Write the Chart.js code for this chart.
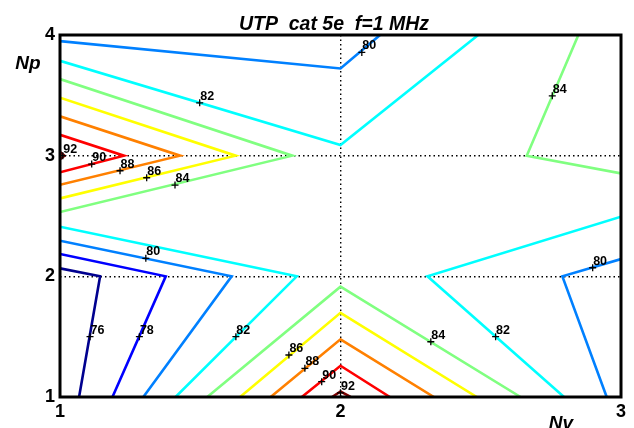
<!DOCTYPE html>
<html>
<head>
<meta charset="utf-8">
<script src="https://cdn.jsdelivr.net/npm/chart.js@4/dist/chart.umd.min.js"></script>
<style>
html,body{margin:0;padding:0;background:#fff;}
#wrap{width:634px;height:428px;position:relative;}
</style>
</head>
<body>
<div id="wrap"><canvas id="c" width="634" height="428"></canvas></div>
<script>
// ---- data ----
const titleText = "UTP  cat 5e  f=1 MHz";
const xLabel = "Nv";
const yLabel = "Np";
const xTicks = [1, 2, 3];
const yTicks = [1, 2, 3, 4];

// contour levels and their colours
const levels = [76, 78, 80, 82, 84, 86, 88, 90, 92];
const levelColors = ["#00008F", "#0000FF", "#0080FF", "#00FFFF", "#80FF80", "#FFFF00", "#FF8000", "#FF0000", "#800000"];

// contour polylines [x, y]
const c76 = [[1, 2.066], [1.143, 2], [1.068, 1]];
const c78 = [[1, 2.185], [1.377, 2], [1.187, 1]];
const c80a = [[1, 3.949], [2, 3.723], [2.141, 4]];
const c80b = [[1, 2.295], [1.612, 2], [1.297, 1]];
const c80c = [[3, 2.143], [2.791, 2], [2.949, 1]];
const c82a = [[1, 3.786], [2, 3.088], [2.491, 4]];
const c82b = [[1, 2.411], [1.844, 2], [1.412, 1]];
const c82c = [[3, 2.494], [2.310, 2], [2.797, 1]];
const c84a = [[1, 3.635], [1.828, 3], [1, 2.533]];
const c84b = [[2.848, 4], [2.664, 3], [3, 2.853]];
const c84c = [[1.525, 1], [2, 1.914], [2.642, 1]];
const c86a = [[1, 3.480], [1.626, 3], [1, 2.646]];
const c86b = [[1.642, 1], [2, 1.698], [2.486, 1]];
const c88a = [[1, 3.326], [1.428, 3], [1, 2.759]];
const c88b = [[1.751, 1], [2, 1.478], [2.333, 1]];
const c90a = [[1, 3.173], [1.228, 3], [1, 2.862]];
const c90b = [[1.862, 1], [2, 1.259], [2.176, 1]];
const c92a = [[1, 3.030], [1.016, 3], [1, 2.970]];
const c92b = [[1.970, 1], [2, 1.046], [2.036, 1]];

const contourLines = [
  [76, c76], [78, c78],
  [80, c80a], [80, c80b], [80, c80c],
  [82, c82a], [82, c82b], [82, c82c],
  [84, c84a], [84, c84b], [84, c84c],
  [86, c86a], [86, c86b],
  [88, c88a], [88, c88b],
  [90, c90a], [90, c90b],
  [92, c92a], [92, c92b]
];

// contour labels: marker position and text
const labelX = [2.076, 1.498, 2.755, 1.010, 1.113, 1.214, 1.309, 1.410, 1.306, 2.899, 1.107, 1.283, 1.627, 2.553, 2.322, 1.816, 1.873, 1.933, 2.000];
const labelY = [3.856, 3.438, 3.496, 3.000, 2.930, 2.875, 2.817, 2.756, 2.149, 2.071, 1.500, 1.500, 1.500, 1.500, 1.458, 1.348, 1.238, 1.127, 1.035];
const labelText = ["80", "82", "84", "92", "90", "88", "86", "84", "80", "80", "76", "78", "82", "82", "84", "86", "88", "90", "92"];

// ---- build datasets ----
const datasets = contourLines.map(([lev, pts]) => ({
  data: pts.map(p => ({x: p[0], y: p[1]})),
  showLine: true,
  borderColor: levelColors[levels.indexOf(lev)],
  borderWidth: 2.6,
  pointRadius: 0,
  fill: false,
  tension: 0,
  borderCapStyle: 'butt',
  borderJoinStyle: 'miter',
  order: 1
}));
datasets.push({
  data: labelX.map((x, i) => ({x: x, y: labelY[i]})),
  showLine: false,
  pointStyle: 'cross',
  pointRadius: 3.5,
  borderColor: '#000',
  borderWidth: 1.3,
  backgroundColor: '#000',
  order: 0
});

const FONT = '"Liberation Sans", Arial, sans-serif';
const decor = {
  id: 'decor',
  afterDatasetsDraw(chart) {
    const ctx = chart.ctx, a = chart.chartArea;
    const xs = chart.scales.x, ys = chart.scales.y;
    ctx.save();
    // contour label texts
    ctx.fillStyle = '#000';
    ctx.font = 'bold 12.5px ' + FONT;
    ctx.textAlign = 'left';
    ctx.textBaseline = 'alphabetic';
    labelText.forEach((t, i) => {
      const px = xs.getPixelForValue(labelX[i]);
      const py = ys.getPixelForValue(labelY[i]);
      ctx.fillText(t, px + 0.5, py - 3);
    });
    // box
    ctx.strokeStyle = '#000';
    ctx.lineWidth = 3;
    ctx.strokeRect(a.left, a.top, a.right - a.left, a.bottom - a.top);
    // title
    ctx.font = 'italic bold 19.5px ' + FONT;
    ctx.textAlign = 'center';
    ctx.fillText(titleText, 334, 30);
    // axis labels
    ctx.font = 'italic bold 19px ' + FONT;
    ctx.fillText(yLabel, 28, 69);
    ctx.fillText(xLabel, 561, 429);
    ctx.restore();
  }
};

new Chart(document.getElementById('c'), {
  type: 'scatter',
  data: {datasets},
  plugins: [decor],
  options: {
    responsive: false,
    animation: false,
    events: [],
    layout: {padding: {left: 0, right: 13, top: 35, bottom: 0}},
    plugins: {legend: {display: false}, tooltip: {enabled: false}, title: {display: false}},
    scales: {
      x: {
        type: 'linear', min: 1, max: 3,
        afterFit(s) { s.height = 31; },
        afterBuildTicks(s) { s.ticks = xTicks.map(v => ({value: v})); },
        ticks: {color: '#000', padding: 4, font: {family: FONT, size: 18, weight: 'bold'}},
        grid: {color: '#000', lineWidth: 1.4, drawTicks: false},
        border: {display: false, dash: [1.5, 3]}
      },
      y: {
        type: 'linear', min: 1, max: 4,
        afterFit(s) { s.width = 60; },
        afterBuildTicks(s) { s.ticks = yTicks.map(v => ({value: v})); },
        ticks: {color: '#000', padding: 5, font: {family: FONT, size: 18, weight: 'bold'}},
        grid: {color: '#000', lineWidth: 1.4, drawTicks: false},
        border: {display: false, dash: [1.5, 3]}
      }
    }
  }
});
</script>
</body>
</html>
